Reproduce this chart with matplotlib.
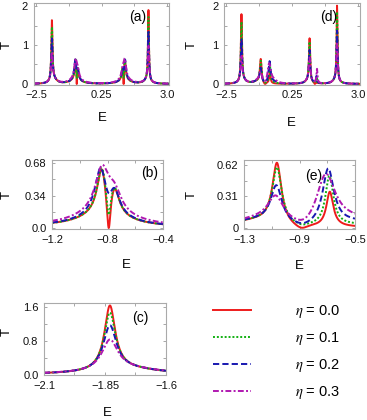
import numpy as np
import matplotlib
matplotlib.use("Agg")
import matplotlib.pyplot as plt

plt.rcParams['font.family'] = ['Liberation Sans', 'DejaVu Sans']
plt.rcParams['mathtext.fontset'] = 'stix'

eta_values = [0.0, 0.1, 0.2, 0.3]
colors = ['#ee1c1c', '#12b012', '#1818b0', '#b018b0']
dashes = [None, (1, 1), (3.2, 1.6), (3, 1.2, 1, 1.2)]

# left column (a, b, c): one row per resonance, one column per eta
left_centre = [
    [-1.83, -1.83, -1.83, -1.83],
    [-1.76, -1.76, -1.76, -1.76],
    [-0.84, -0.84, -0.85, -0.84],
    [-0.75, -0.75, -0.75, -0.75],
    [-0.83, -0.83, -0.83, -0.83],
    [1.22, 1.22, 1.23, 1.22],
    [1.13, 1.13, 1.13, 1.13],
    [1.21, 1.21, 1.21, 1.21],
    [2.21, 2.21, 2.21, 2.21],
    [2.16, 2.16, 2.16, 2.16],
]
left_height = [
    [1.53, 1.36, 1.06, 0.72],
    [0.12, 0.12, 0.12, 0.12],
    [0.50, 0.50, 0.48, 0.44],
    [0.27, 0.27, 0.24, 0.20],
    [0.13, 0.13, 0.13, 0.15],
    [0.50, 0.50, 0.48, 0.44],
    [0.27, 0.27, 0.24, 0.20],
    [0.13, 0.13, 0.13, 0.15],
    [1.80, 1.62, 1.24, 0.88],
    [0.10, 0.10, 0.10, 0.10],
]
left_width = [
    [0.027, 0.029, 0.033, 0.040],
    [0.15, 0.15, 0.15, 0.15],
    [0.040, 0.040, 0.048, 0.060],
    [0.040, 0.040, 0.045, 0.060],
    [0.22, 0.22, 0.22, 0.25],
    [0.040, 0.040, 0.048, 0.060],
    [0.040, 0.040, 0.045, 0.060],
    [0.22, 0.22, 0.22, 0.25],
    [0.022, 0.024, 0.028, 0.034],
    [0.15, 0.15, 0.15, 0.15],
]
left_dip_centre = [-0.791, 1.171]
left_dip_width = [[0.0165, 0.018, 0.03, 0.04], [0.0165, 0.018, 0.03, 0.04]]
left_dip_floor = [[0.0, 0.3, 0.8, 1.0], [0.0, 0.3, 0.8, 1.0]]

# right column (d, e)
right_centre = [
    [-1.87, -1.87, -1.87, -1.87],
    [-1.82, -1.82, -1.82, -1.82],
    [-1.20, -1.20, -1.20, -1.20],
    [-1.062, -1.062, -1.066, -1.07],
    [-0.682, -0.685, -0.694, -0.714],
    [-0.50, -0.50, -0.50, -0.50],
    [0.98, 0.98, 0.98, 0.98],
    [0.93, 0.93, 0.93, 0.93],
    [1.29, 1.29, 1.27, 1.29],
    [2.13, 2.13, 2.13, 2.13],
    [2.08, 2.08, 2.08, 2.08],
]
right_height = [
    [1.70, 1.50, 1.05, 0.62],
    [0.10, 0.10, 0.10, 0.10],
    [0.06, 0.06, 0.06, 0.06],
    [0.66, 0.575, 0.395, 0.28],
    [0.37, 0.51, 0.60, 0.58],
    [0.0, 0.02, 0.045, 0.055],
    [1.12, 1.02, 0.80, 0.60],
    [0.08, 0.08, 0.08, 0.08],
    [0.02, 0.12, 0.18, 0.36],
    [1.92, 1.76, 1.28, 0.94],
    [0.10, 0.10, 0.10, 0.10],
]
right_width = [
    [0.026, 0.028, 0.033, 0.042],
    [0.15, 0.15, 0.15, 0.15],
    [0.20, 0.20, 0.20, 0.20],
    [0.040, 0.042, 0.050, 0.070],
    [0.030, 0.035, 0.050, 0.085],
    [0.15, 0.15, 0.15, 0.15],
    [0.028, 0.030, 0.034, 0.042],
    [0.15, 0.15, 0.15, 0.15],
    [0.025, 0.025, 0.025, 0.025],
    [0.022, 0.024, 0.028, 0.034],
    [0.15, 0.15, 0.15, 0.15],
]
right_dip_centre = [-0.88, 1.20]
right_dip_width = [[0.06, 0.06, 0.08, 0.10], [0.03, 0.03, 0.03, 0.03]]
right_dip_floor = [[0.03, 0.5, 0.5, 0.45], [0.0, 0.5, 0.9, 1.0]]


def transmission(E, centre, height, width, dip_c, dip_w, dip_f, k):
    T = np.zeros_like(E)
    for c, h, w in zip(centre, height, width):
        T += h[k] * w[k] ** 2 / ((E - c[k]) ** 2 + w[k] ** 2)
    for d, w, f in zip(dip_c, dip_w, dip_f):
        T *= ((E - d) ** 2 + f[k] * w[k] ** 2) / ((E - d) ** 2 + w[k] ** 2)
    return T


left_model = (left_centre, left_height, left_width, left_dip_centre, left_dip_width, left_dip_floor)
right_model = (right_centre, right_height, right_width, right_dip_centre, right_dip_width, right_dip_floor)

W, H = 367, 420
# name, model, box px (x0, x1, y0, y1), xlim, ylim, xticks, xlabels, yticks, ylabels,
# tag pos (axes frac), T label px, E label px
panels = [
    ('(a)', left_model, (33.5, 169, 2.5, 84.5), (-2.6, 3.07), (-0.013, 2.09),
     [-2.5, -1.125, 0.25, 1.625, 3.0], ['\u22122.5', '', '0.25', '', '3.0'],
     [0, 0.5, 1, 1.5, 2], ['0', '', '1', '', '2'], (0.77, 0.82), (7, 45), (102, 118)),
    ('(d)', right_model, (224, 359.5, 2.5, 84.5), (-2.6, 3.07), (-0.013, 2.09),
     [-2.5, -1.125, 0.25, 1.625, 3.0], ['\u22122.5', '', '0.25', '', '3.0'],
     [0, 0.5, 1, 1.5, 2], ['0', '', '1', '', '2'], (0.77, 0.82), (192, 45), (291, 123)),
    ('(b)', left_model, (52, 163, 160, 229), (-1.2, -0.4), (-0.01, 0.711),
     [-1.2, -1.0, -0.8, -0.6, -0.4], ['\u22121.2', '', '\u22120.8', '', '\u22120.4'],
     [0, 0.17, 0.34, 0.51, 0.68], ['0.0', '', '0.34', '', '0.68'], (0.875, 0.81), (7, 195), (126, 265)),
    ('(e)', right_model, (244, 355, 160, 229), (-1.3, -0.5), (-0.01, 0.669),
     [-1.3, -1.1, -0.9, -0.7, -0.5], ['\u22121.3', '', '\u22120.9', '', '\u22120.5'],
     [0, 0.155, 0.31, 0.465, 0.62], ['0', '', '0.31', '', '0.62'], (0.63, 0.77), (192, 195), (299, 266)),
    ('(c)', left_model, (44, 166, 303, 375), (-2.1, -1.6), (-0.01, 1.694),
     [-2.1, -1.975, -1.85, -1.725, -1.6], ['\u22122.1', '', '\u22121.85', '', '\u22121.6'],
     [0, 0.4, 0.8, 1.2, 1.6], ['0.0', '', '0.8', '', '1.6'], (0.79, 0.79), (7, 332), (107, 413)),
]

fig = plt.figure(figsize=(W / 100, H / 100), dpi=100)
legend_lines = []
for tag, model, box, xlim, ylim, xt, xtl, yt, ytl, tagpos, tpos, epos in panels:
    x0, x1, y0, y1 = box
    ax = fig.add_axes([x0 / W, 1 - y1 / H, (x1 - x0) / W, (y1 - y0) / H])
    E = np.linspace(xlim[0], xlim[1], 4000)
    lines = []
    for k, eta in enumerate(eta_values):
        T = transmission(E, *model, k)
        ln, = ax.plot(E, T, color=colors[k], lw=1.4, label=r'$\eta$ = %.1f' % eta)
        if dashes[k] is not None:
            ln.set_dashes(dashes[k])
        lines.append(ln)
    legend_lines = lines
    ax.set_xlim(*xlim)
    ax.set_ylim(*ylim)
    ax.set_xticks(xt)
    ax.set_xticklabels(xtl)
    ax.set_yticks(yt)
    ax.set_yticklabels(ytl)
    ax.tick_params(direction='in', length=2.5, width=0.6, color='#999999',
                   top=True, right=True, labelsize=8, pad=4, labelcolor='#111111')
    for s in ax.spines.values():
        s.set_color('#aaaaaa')
        s.set_linewidth(0.8)
    ax.text(tagpos[0], tagpos[1], tag, transform=ax.transAxes, fontsize=10,
            ha='center', va='center')
    fig.text(tpos[0] / W, 1 - tpos[1] / H, 'T', fontsize=9.5, rotation=90,
             ha='center', va='center')
    fig.text(epos[0] / W, 1 - epos[1] / H, 'E', fontsize=9.5,
             ha='center', va='center')

fig.legend(handles=legend_lines, loc='center left', bbox_to_anchor=(213 / W, 1 - 352 / H),
           frameon=False, fontsize=10.5, handlelength=2.6, handletextpad=3.0,
           labelspacing=0.7, borderpad=0, borderaxespad=0)

fig.savefig('out.png', dpi=100)
